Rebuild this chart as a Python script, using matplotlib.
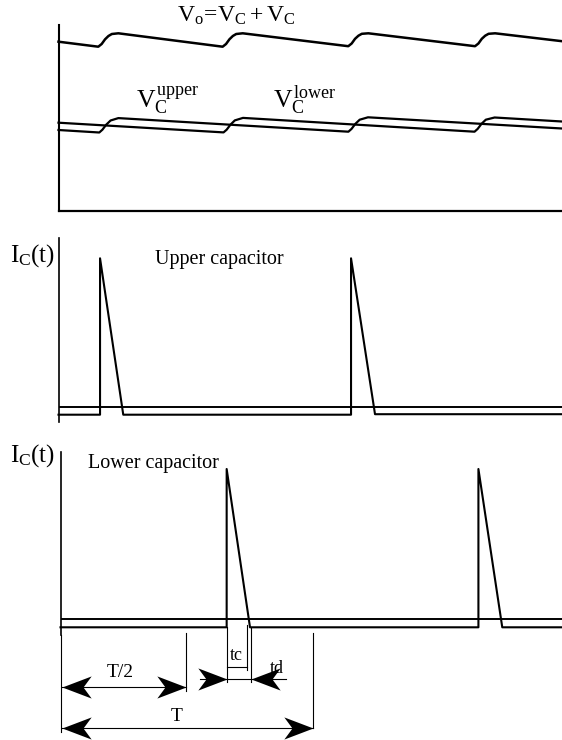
import matplotlib

matplotlib.use("Agg")
import matplotlib.pyplot as plt
from matplotlib.path import Path

plt.rcParams["font.family"] = ["Liberation Serif", "DejaVu Serif"]
plt.rcParams["mathtext.fontset"] = "custom"
plt.rcParams["mathtext.rm"] = "Liberation Serif"
plt.rcParams["mathtext.it"] = "Liberation Serif"
plt.rcParams["mathtext.bf"] = "Liberation Serif:bold"

# time axis in ms, mains period T = 20 ms
T = 20.0
T_HALF = 10.0

# output voltage Vo = Vc(upper) + Vc(lower)
vo_t = [0, 3.17, 3.44, 3.71, 3.98, 4.25, 4.77,
        13.08, 13.35, 13.62, 13.89, 14.16, 14.68,
        23.09, 23.36, 23.63, 23.9, 24.17, 24.69,
        33.19, 33.46, 33.73, 34.0, 34.27, 34.79, 40.12]
vo_v = [169, 164, 166.7, 171.4, 174.7, 176.7, 177.4,
        164, 166.7, 171.4, 174.7, 176.7, 177.4,
        164.5, 167.2, 171.9, 175.0, 176.9, 177.4,
        164.5, 167.2, 171.9, 175.0, 176.9, 177.4, 169.5]

# capacitor voltages (charge alternately, half a period apart)
vc_up_t = [0, 3.25, 3.5, 3.8, 4.15, 4.77, 23.1, 23.35, 23.65, 24.0, 24.66, 40.12]
vc_up_v = [80.7, 78.2, 81, 86, 90.2, 92.6, 79, 81.8, 86.8, 91, 93.4, 82.2]
vc_lo_t = [0, 13.15, 13.4, 13.7, 14.05, 14.7, 33.15, 33.4, 33.7, 34.05, 34.75, 40.12]
vc_lo_v = [88, 78.3, 81, 86, 90.3, 92.8, 79, 81.8, 86.8, 91, 93.2, 89.2]

# capacitor currents
ic_up_t = [0, 3.31, 3.31, 5.16, 23.31, 23.31, 25.22, 40.12]
ic_up_i = [-8, -8, 148.4, -8, -8, 148.4, -7.5, -7.5]
ic_lo_t = [0, 13.24, 13.24, 15.1, 33.3, 33.3, 35.2, 39.96]
ic_lo_i = [-8, -8, 150.3, -8, -8, 150.3, -8, -8]

# charge / discharge instants used for the tc, td dimensions
t_charge_start = 13.24
t_charge_end = 14.84
t_disch_start = 15.18

W, H = 562, 740
fig = plt.figure(figsize=(W / 100, H / 100), dpi=100)


def px_axes(left, top, bottom, right=562):
    return fig.add_axes([left / W, 1 - bottom / H, (right - left) / W, (bottom - top) / H])


ax1 = px_axes(58.5, 25, 210.7)
ax2 = px_axes(58.5, 238.3, 421.7)
ax3 = px_axes(60.5, 451.7, 635)
ax4 = px_axes(60.5, 635, 740)

for ax in (ax1, ax2, ax3, ax4):
    ax.set_xticks([])
    ax.set_yticks([])
    ax.patch.set_visible(False)
    for s in ax.spines.values():
        s.set_visible(False)

ax1.set_xlim(0, 40.12)
ax2.set_xlim(0, 40.12)
ax3.set_xlim(0, 39.96)
ax4.set_xlim(0, 39.96)
ax1.set_ylim(0, 185.7)
ax2.set_ylim(-15, 168.4)
ax3.set_ylim(-15.7, 167.6)
ax4.set_ylim(105, 0)

ax1.spines["left"].set_visible(True)
ax1.spines["bottom"].set_visible(True)
ax1.spines["left"].set_linewidth(1.5)
ax1.spines["bottom"].set_linewidth(1.6)
for ax in (ax2, ax3):
    ax.spines["left"].set_visible(True)
    ax.spines["left"].set_linewidth(1.2)

line_kw = dict(color="black", solid_joinstyle="round", clip_on=False)
ax1.plot(vo_t, vo_v, lw=1.8, **line_kw)
ax1.plot(vc_up_t, vc_up_v, lw=1.6, **line_kw)
ax1.plot(vc_lo_t, vc_lo_v, lw=1.6, **line_kw)

ax2.axhline(0, color="black", lw=1.4)
ax2.plot(ic_up_t, ic_up_i, lw=1.5, **line_kw)
ax3.axhline(0, color="black", lw=1.4)
ax3.plot(ic_lo_t, ic_lo_i, lw=1.5, **line_kw)

# labels
ax1.text(9.45, 189, r"$V_o\!=\!V_C + V_C$", fontsize=17, ha="left", va="baseline")
ax1.text(6.2, 102.4, r"$V_C^{\mathrm{upper}}$", fontsize=18.5, ha="left", va="baseline")
ax1.text(17.1, 102.4, r"$V_C^{\mathrm{lower}}$", fontsize=18.5, ha="left", va="baseline")
ax2.text(-0.28, 145.5, r"$I_C(t)$", fontsize=18, ha="right", va="baseline", clip_on=False)
ax2.text(7.69, 142.7, "Upper capacitor", fontsize=14.5, ha="left", va="baseline")
ax3.text(-0.44, 158, r"$I_C(t)$", fontsize=18, ha="right", va="baseline", clip_on=False)
ax3.text(2.19, 151, "Lower capacitor", fontsize=14.5, ha="left", va="baseline")

# dimension lines below the lower plot
HEAD_R = Path([(0, 0), (-1, 0.38), (-0.72, 0), (-1, -0.38), (0, 0)],
              [Path.MOVETO, Path.LINETO, Path.LINETO, Path.LINETO, Path.CLOSEPOLY])
HEAD_L = Path([(0, 0), (1, 0.38), (0.72, 0), (1, -0.38), (0, 0)],
              [Path.MOVETO, Path.LINETO, Path.LINETO, Path.LINETO, Path.CLOSEPOLY])
head_kw = dict(color="black", markersize=42, markeredgewidth=0, clip_on=False, linestyle="none")
thin = dict(color="black", lw=0.8, clip_on=False)


def dim_arrow(x0, x1, y):
    ax4.plot([x0, x1], [y, y], **thin)
    ax4.plot([x0], [y], marker=HEAD_L, **head_kw)
    ax4.plot([x1], [y], marker=HEAD_R, **head_kw)


ax4.plot([0, 0], [0, 96.7], **thin)
ax4.plot([T_HALF, T_HALF], [-2, 55.7], **thin)
ax4.plot([T + 0.1, T + 0.1], [-2, 93], **thin)
dim_arrow(0.1, T_HALF, 51.7)
dim_arrow(0.1, T + 0.1, 92.7)
ax4.text(4.74, 37.7, "T/2", fontsize=14, ha="center", va="center")
ax4.text(9.26, 81.7, "T", fontsize=14, ha="center", va="center")

ax4.plot([t_charge_start, t_charge_start], [-8, 47], **thin)
ax4.plot([t_charge_end, t_charge_end], [-10, 35], **thin)
ax4.plot([t_disch_start, t_disch_start], [-8, 47], **thin)
ax4.plot([t_charge_start, t_charge_end], [32, 32], **thin)
ax4.plot([11.1, 18.0], [44, 44], **thin)
ax4.plot([t_charge_start], [44], marker=HEAD_R, **head_kw)
ax4.plot([t_disch_start], [44], marker=HEAD_L, **head_kw)
ax4.text(14.04, 20, "tc", fontsize=13, ha="center", va="center")
ax4.text(17.27, 33.3, "td", fontsize=13, ha="center", va="center")

fig.savefig("out.png", dpi=100)
